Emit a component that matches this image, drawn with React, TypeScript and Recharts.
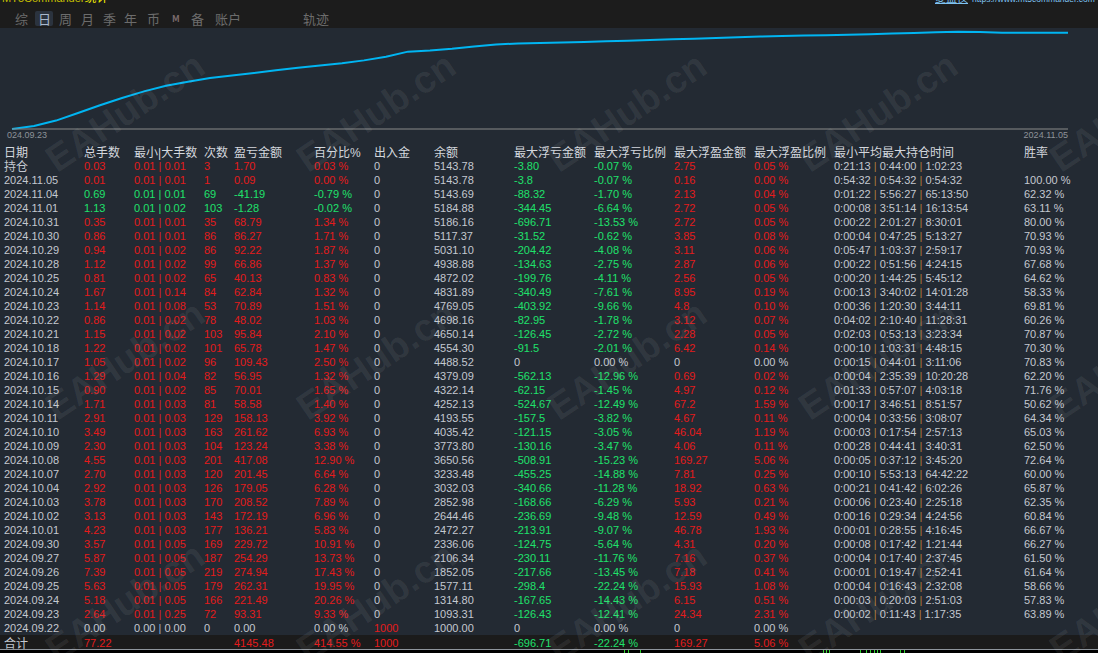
import React from 'react';
import { LineChart, Line, XAxis, YAxis } from 'recharts';

// ---- equity curve (evenly spaced samples) ----
const equityCurve = [0, 133, 361, 684, 1015, 1328, 1612, 1853, 2029, 2184, 2296, 2399, 2515, 2622, 2721, 2820, 2941, 3100, 3315, 3366, 3439, 3538, 3624, 3667, 3684, 3702, 3732, 3762, 3787, 3817, 3848, 3873, 3903, 3929, 3959, 3990, 4002, 4015, 4037, 4063, 4088, 4118, 4144, 4170, 4161, 4127, 4127, 4127, 4127];
const axisLabels = ['024.09.23', '2024.11.05'];

// ---- tabs ----
const tabs = ['综', '日', '周', '月', '季', '年', '币', 'M', '备', '账户', '轨迹'];

// ---- table ----
const headers = ['日期', '总手数', '最小|大手数', '次数', '盈亏金额', '百分比%', '出入金', '余额', '最大浮亏金额', '最大浮亏比例', '最大浮盈金额', '最大浮盈比例', '最小平均最大持仓时间', '胜率'];
const rowLabels = ['持仓', '2024.11.05', '2024.11.04', '2024.11.01', '2024.10.31', '2024.10.30', '2024.10.29', '2024.10.28', '2024.10.25', '2024.10.24', '2024.10.23', '2024.10.22', '2024.10.21', '2024.10.18', '2024.10.17', '2024.10.16', '2024.10.15', '2024.10.14', '2024.10.11', '2024.10.10', '2024.10.09', '2024.10.08', '2024.10.07', '2024.10.04', '2024.10.03', '2024.10.02', '2024.10.01', '2024.09.30', '2024.09.27', '2024.09.26', '2024.09.25', '2024.09.24', '2024.09.23', '2024.09.22'];
const totalLots = ['0.03', '0.01', '0.69', '1.13', '0.35', '0.86', '0.94', '1.12', '0.81', '1.67', '1.14', '0.86', '1.15', '1.22', '1.05', '1.29', '0.90', '1.71', '2.91', '3.49', '2.30', '4.55', '2.70', '2.92', '3.78', '3.13', '4.23', '3.57', '5.87', '7.39', '5.63', '5.18', '2.64', '0.00'];
const minLots = ['0.01', '0.01', '0.01', '0.01', '0.01', '0.01', '0.01', '0.01', '0.01', '0.01', '0.01', '0.01', '0.01', '0.01', '0.01', '0.01', '0.01', '0.01', '0.01', '0.01', '0.01', '0.01', '0.01', '0.01', '0.01', '0.01', '0.01', '0.01', '0.01', '0.01', '0.01', '0.01', '0.01', '0.00'];
const maxLots = ['0.01', '0.01', '0.01', '0.02', '0.01', '0.01', '0.02', '0.02', '0.02', '0.14', '0.08', '0.02', '0.02', '0.02', '0.02', '0.04', '0.02', '0.03', '0.03', '0.03', '0.03', '0.03', '0.03', '0.03', '0.03', '0.03', '0.03', '0.05', '0.05', '0.05', '0.05', '0.05', '0.25', '0.00'];
const tradeCounts = ['3', '1', '69', '103', '35', '86', '86', '99', '65', '84', '53', '78', '103', '101', '96', '82', '85', '81', '129', '163', '104', '201', '120', '126', '170', '143', '177', '169', '187', '219', '179', '166', '72', '0'];
const pnl = ['1.70', '0.09', '-41.19', '-1.28', '68.79', '86.27', '92.22', '66.86', '40.13', '62.84', '70.89', '48.02', '95.84', '65.78', '109.43', '56.95', '70.01', '58.58', '158.13', '261.62', '123.24', '417.08', '201.45', '179.05', '208.52', '172.19', '136.21', '229.72', '254.29', '274.94', '262.31', '221.49', '93.31', '0.00'];
const pnlPct = ['0.03 %', '0.00 %', '-0.79 %', '-0.02 %', '1.34 %', '1.71 %', '1.87 %', '1.37 %', '0.83 %', '1.32 %', '1.51 %', '1.03 %', '2.10 %', '1.47 %', '2.50 %', '1.32 %', '1.65 %', '1.40 %', '3.92 %', '6.93 %', '3.38 %', '12.90 %', '6.64 %', '6.28 %', '7.89 %', '6.96 %', '5.83 %', '10.91 %', '13.73 %', '17.43 %', '19.95 %', '20.26 %', '9.33 %', '0.00 %'];
const deposits = ['0', '0', '0', '0', '0', '0', '0', '0', '0', '0', '0', '0', '0', '0', '0', '0', '0', '0', '0', '0', '0', '0', '0', '0', '0', '0', '0', '0', '0', '0', '0', '0', '0', '1000'];
const balances = ['5143.78', '5143.78', '5143.69', '5184.88', '5186.16', '5117.37', '5031.10', '4938.88', '4872.02', '4831.89', '4769.05', '4698.16', '4650.14', '4554.30', '4488.52', '4379.09', '4322.14', '4252.13', '4193.55', '4035.42', '3773.80', '3650.56', '3233.48', '3032.03', '2852.98', '2644.46', '2472.27', '2336.06', '2106.34', '1852.05', '1577.11', '1314.80', '1093.31', '1000.00'];
const maxFloatLoss = ['-3.80', '-3.8', '-88.32', '-344.45', '-696.71', '-31.52', '-204.42', '-134.63', '-199.76', '-340.49', '-403.92', '-82.95', '-126.45', '-91.5', '0', '-562.13', '-62.15', '-524.67', '-157.5', '-121.15', '-130.16', '-508.91', '-455.25', '-340.66', '-168.66', '-236.69', '-213.91', '-124.75', '-230.11', '-217.66', '-298.4', '-167.65', '-126.43', '0'];
const maxFloatLossPct = ['-0.07 %', '-0.07 %', '-1.70 %', '-6.64 %', '-13.53 %', '-0.62 %', '-4.08 %', '-2.75 %', '-4.11 %', '-7.61 %', '-9.66 %', '-1.78 %', '-2.72 %', '-2.01 %', '0.00 %', '-12.96 %', '-1.45 %', '-12.49 %', '-3.82 %', '-3.05 %', '-3.47 %', '-15.23 %', '-14.88 %', '-11.28 %', '-6.29 %', '-9.48 %', '-9.07 %', '-5.64 %', '-11.76 %', '-13.45 %', '-22.24 %', '-14.43 %', '-12.41 %', '0.00 %'];
const maxFloatProfit = ['2.75', '0.16', '2.13', '2.72', '2.72', '3.85', '3.11', '2.87', '2.56', '8.95', '4.8', '3.12', '2.28', '6.42', '0', '0.69', '4.97', '67.2', '4.67', '46.04', '4.06', '169.27', '7.81', '18.92', '5.93', '12.59', '46.78', '4.31', '7.16', '7.18', '15.93', '6.15', '24.34', '0'];
const maxFloatProfitPct = ['0.05 %', '0.00 %', '0.04 %', '0.05 %', '0.05 %', '0.08 %', '0.06 %', '0.06 %', '0.05 %', '0.19 %', '0.10 %', '0.07 %', '0.05 %', '0.14 %', '0.00 %', '0.02 %', '0.12 %', '1.59 %', '0.11 %', '1.19 %', '0.11 %', '5.06 %', '0.25 %', '0.63 %', '0.21 %', '0.49 %', '1.93 %', '0.20 %', '0.37 %', '0.41 %', '1.08 %', '0.51 %', '2.31 %', '0.00 %'];
const holdTimes = ['0:21:13|0:44:00|1:02:23', '0:54:32|0:54:32|0:54:32', '0:01:22|5:56:27|65:13:50', '0:00:08|3:51:14|16:13:54', '0:00:22|2:01:27|8:30:01', '0:00:04|0:47:25|5:13:27', '0:05:47|1:03:37|2:59:17', '0:00:22|0:51:56|4:24:15', '0:00:20|1:44:25|5:45:12', '0:00:13|3:40:02|14:01:28', '0:00:36|1:20:30|3:44:11', '0:04:02|2:10:40|11:28:31', '0:02:03|0:53:13|3:23:34', '0:00:10|1:03:31|4:48:15', '0:00:15|0:44:01|3:11:06', '0:00:04|2:35:39|10:20:28', '0:01:33|0:57:07|4:03:18', '0:00:17|3:46:51|8:51:57', '0:00:04|0:33:56|3:08:07', '0:00:03|0:17:54|2:57:13', '0:00:28|0:44:41|3:40:31', '0:00:05|0:37:12|3:45:20', '0:00:10|5:53:13|64:42:22', '0:00:21|0:41:42|6:02:26', '0:00:06|0:23:40|2:25:18', '0:00:16|0:29:34|4:24:56', '0:00:01|0:28:55|4:16:45', '0:00:08|0:17:42|1:21:44', '0:00:04|0:17:40|2:37:45', '0:00:01|0:19:47|2:52:41', '0:00:04|0:16:43|2:32:08', '0:00:03|0:20:03|2:51:03', '0:00:02|0:11:43|1:17:35', ''];
const winRates = ['', '100.00 %', '62.32 %', '63.11 %', '80.00 %', '70.93 %', '70.93 %', '67.68 %', '64.62 %', '58.33 %', '69.81 %', '60.26 %', '70.87 %', '70.30 %', '70.83 %', '62.20 %', '71.76 %', '50.62 %', '64.34 %', '65.03 %', '62.50 %', '72.64 %', '60.00 %', '65.87 %', '62.35 %', '60.84 %', '66.67 %', '66.27 %', '61.50 %', '61.64 %', '58.66 %', '57.83 %', '63.89 %', ''];
const totalsLabel = '合计';
const totals = { lots: '77.22', pnl: '4145.48', pct: '414.55 %', deposit: '1000', floatLoss: '-696.71', floatLossPct: '-22.24 %', floatProfit: '169.27', floatProfitPct: '5.06 %' };

const RED = '#e41b1b';
const GREEN = '#1fe16b';
const GRAY = '#c3c8d0';
const HEAD = '#d3d7dd';
const PIPE = '#b07a3a';
const BG = '#232a33';
const NUMFONT = "'Liberation Sans', 'Noto Sans CJK SC', sans-serif";
const CJKFONT = "'Noto Sans CJK SC', 'Liberation Sans', sans-serif";

const colX = [4, 84, 134, 204, 234, 314, 374, 434, 514, 594, 674, 754, 834, 1024];

const signColor = (v: string) => {
  const n = parseFloat(v);
  if (n > 0) return RED;
  if (n < 0) return GREEN;
  return GRAY;
};

function Cell({ x, top, color, children, cjk, h }: any) {
  return (
    <div
      style={{
        position: 'absolute',
        left: x,
        top,
        height: h || 14,
        lineHeight: `${h || 14}px`,
        fontSize: cjk ? 12 : 11,
        fontFamily: cjk ? CJKFONT : NUMFONT,
        color,
        whiteSpace: 'nowrap',
      }}
    >
      {children}
    </div>
  );
}

const wmCenters: [number, number][] = [];
[112, 360, 602].forEach((cy) => {
  [125, 376, 627, 878, 1129].forEach((cx) => wmCenters.push([cx, cy]));
});

export default function App() {
  const data = equityCurve.map((v, i) => ({ i, v }));
  const last = equityCurve.length - 1;

  const renderTick = (props: any) => {
    const { x, y, payload } = props;
    const first = payload.value === 0;
    return (
      <text
        x={first ? x - 5 : x}
        y={y + 6}
        textAnchor={first ? 'start' : 'end'}
        dominantBaseline="central"
        fontSize={9}
        fontFamily={NUMFONT}
        fill="#8d9299"
      >
        {first ? axisLabels[0] : axisLabels[1]}
      </text>
    );
  };

  const rowTop = (k: number) => 159 + 14 * k;

  return (
    <div style={{ position: 'fixed', left: 0, top: 0, width: 1098, height: 653, background: BG, overflow: 'hidden' }}>
      {/* top bar */}
      <div style={{ position: 'absolute', left: 0, top: 0, width: 1098, height: 28, background: '#1c1c1c' }} />
      <div style={{ position: 'absolute', left: 2, top: -10, lineHeight: '14px', fontSize: 11, fontFamily: NUMFONT, color: '#c9c000', whiteSpace: 'nowrap' }}>
        MT5Commander<span style={{ fontFamily: CJKFONT, fontSize: 12, color: '#f4f000' }}>统计</span>
      </div>
      <div style={{ position: 'absolute', left: 935, top: -10, lineHeight: '14px', fontSize: 11, fontFamily: NUMFONT, color: '#7fc3f2', whiteSpace: 'nowrap' }}>
        <span style={{ fontFamily: CJKFONT, fontSize: 11, textDecoration: 'underline' }}>复盘仪</span>
        <span style={{ fontSize: 8.5, marginLeft: 4 }}>https://www.mt5commander.com</span>
      </div>
      {/* tabs */}
      <div style={{ position: 'absolute', left: 35, top: 11, width: 18, height: 15, background: '#2b333e', borderRadius: 2 }} />
      {tabs.map((t, i) => {
        const xs = [15, 38, 59, 81, 103, 124, 147, 172, 191, 215, 303];
        const isSel = i === 1;
        return (
          <div
            key={t}
            style={{
              position: 'absolute',
              left: xs[i],
              top: 11,
              lineHeight: '16px',
              fontSize: t === 'M' ? 9 : 13,
              fontWeight: t === 'M' ? 700 : 400,
              fontFamily: CJKFONT,
              color: isSel ? '#a9b8cc' : t === 'M' ? '#7a6a6a' : '#6c6c6c',
              whiteSpace: 'nowrap',
            }}
          >
            {t}
          </div>
        );
      })}

      {/* equity chart */}
      <div style={{ position: 'absolute', left: 0, top: 28 }}>
        <LineChart width={1098} height={117} data={data} margin={{ top: 3, right: 30, bottom: 0, left: 12 }}>
          <XAxis
            dataKey="i"
            type="number"
            domain={[0, last]}
            ticks={[0, last]}
            tick={renderTick}
            tickLine={false}
            tickSize={0}
            tickMargin={0}
            height={16}
            axisLine={{ stroke: '#8a8a8a', strokeWidth: 1 }}
            interval={0}
          />
          <YAxis
            type="number"
            domain={[0, 4200]}
            width={0}
            tick={false}
            tickLine={false}
            axisLine={{ stroke: '#8a8a8a', strokeWidth: 1 }}
          />
          <Line type="linear" dataKey="v" stroke="#00b5f2" strokeWidth={2} dot={false} isAnimationActive={false} />
        </LineChart>
      </div>

      {/* headers */}
      {headers.map((h, c) => (
        <Cell key={h} x={colX[c]} top={145} h={13} color={HEAD} cjk>
          {h === '最小|大手数' ? (
            <span>最小<span style={{ fontFamily: NUMFONT }}>|</span>大手数</span>
          ) : h === '百分比%' ? (
            <span>百分比<span style={{ fontFamily: NUMFONT }}>%</span></span>
          ) : (
            h
          )}
        </Cell>
      ))}

      {/* rows */}
      {rowLabels.map((lab, k) => {
        const top = rowTop(k);
        const sc = signColor(pnl[k]);
        const lossColor = signColor(maxFloatLoss[k]);
        const profColor = signColor(maxFloatProfit[k]);
        const ht = holdTimes[k] ? holdTimes[k].split('|') : [];
        return (
          <React.Fragment key={lab}>
            <Cell x={colX[0]} top={top} color={GRAY} cjk={k === 0}>{lab}</Cell>
            <Cell x={colX[1]} top={top} color={sc}>{totalLots[k]}</Cell>
            <Cell x={colX[2]} top={top} color={sc}>
              {minLots[k]} <span style={{ color: sc === GRAY ? '#9fb4cf' : sc }}>|</span> {maxLots[k]}
            </Cell>
            <Cell x={colX[3]} top={top} color={sc}>{tradeCounts[k]}</Cell>
            <Cell x={colX[4]} top={top} color={sc}>{pnl[k]}</Cell>
            <Cell x={colX[5]} top={top} color={sc}>{pnlPct[k]}</Cell>
            <Cell x={colX[6]} top={top} color={deposits[k] === '0' ? GRAY : RED}>{deposits[k]}</Cell>
            <Cell x={colX[7]} top={top} color={GRAY}>{balances[k]}</Cell>
            <Cell x={colX[8]} top={top} color={lossColor}>{maxFloatLoss[k]}</Cell>
            <Cell x={colX[9]} top={top} color={lossColor}>{maxFloatLossPct[k]}</Cell>
            <Cell x={colX[10]} top={top} color={profColor}>{maxFloatProfit[k]}</Cell>
            <Cell x={colX[11]} top={top} color={profColor}>{maxFloatProfitPct[k]}</Cell>
            {ht.length > 0 && (
              <Cell x={colX[12]} top={top} color={GRAY}>
                {ht[0]} <span style={{ color: PIPE }}>|</span> {ht[1]} <span style={{ color: PIPE }}>|</span> {ht[2]}
              </Cell>
            )}
            <Cell x={colX[13]} top={top} color={GRAY}>{winRates[k]}</Cell>
          </React.Fragment>
        );
      })}

      {/* totals */}
      <div style={{ position: 'absolute', left: 0, top: 635, width: 1098, height: 14, background: '#1b1b1b' }} />
      <Cell x={colX[0]} top={635.5} color={GRAY} cjk>{totalsLabel}</Cell>
      <Cell x={colX[1]} top={635.5} color={RED}>{totals.lots}</Cell>
      <Cell x={colX[4]} top={635.5} color={RED}>{totals.pnl}</Cell>
      <Cell x={colX[5]} top={635.5} color={RED}>{totals.pct}</Cell>
      <Cell x={colX[6]} top={635.5} color={RED}>{totals.deposit}</Cell>
      <Cell x={colX[8]} top={635.5} color={GREEN}>{totals.floatLoss}</Cell>
      <Cell x={colX[9]} top={635.5} color={GREEN}>{totals.floatLossPct}</Cell>
      <Cell x={colX[10]} top={635.5} color={RED}>{totals.floatProfit}</Cell>
      <Cell x={colX[11]} top={635.5} color={RED}>{totals.floatProfitPct}</Cell>
      <div style={{ position: 'absolute', left: 0, top: 649, width: 1098, height: 1, background: '#8f959c' }} />
      <div style={{ position: 'absolute', left: 0, top: 650, width: 1098, height: 3, background: '#000' }} />
      {[624, 628, 640, 823, 826, 829, 860, 866, 870, 874, 877, 880, 900, 904].map((x) => (
        <div key={x} style={{ position: 'absolute', left: x, top: 650, width: 1, height: 3, background: '#2ed12e' }} />
      ))}

      {/* watermark */}
      <svg width={1098} height={625} style={{ position: 'absolute', left: 0, top: 28, pointerEvents: 'none' }}>
        {wmCenters.map(([cx, cy]) => (
          <text
            key={`${cx}-${cy}`}
            x={cx}
            y={cy - 28}
            transform={`rotate(-34 ${cx} ${cy - 28})`}
            textAnchor="middle"
            dominantBaseline="central"
            fontSize={38}
            fontWeight={700}
            fontFamily={NUMFONT}
            fill="rgba(255,255,255,0.07)"
          >
            EAHub.cn
          </text>
        ))}
      </svg>
    </div>
  );
}
